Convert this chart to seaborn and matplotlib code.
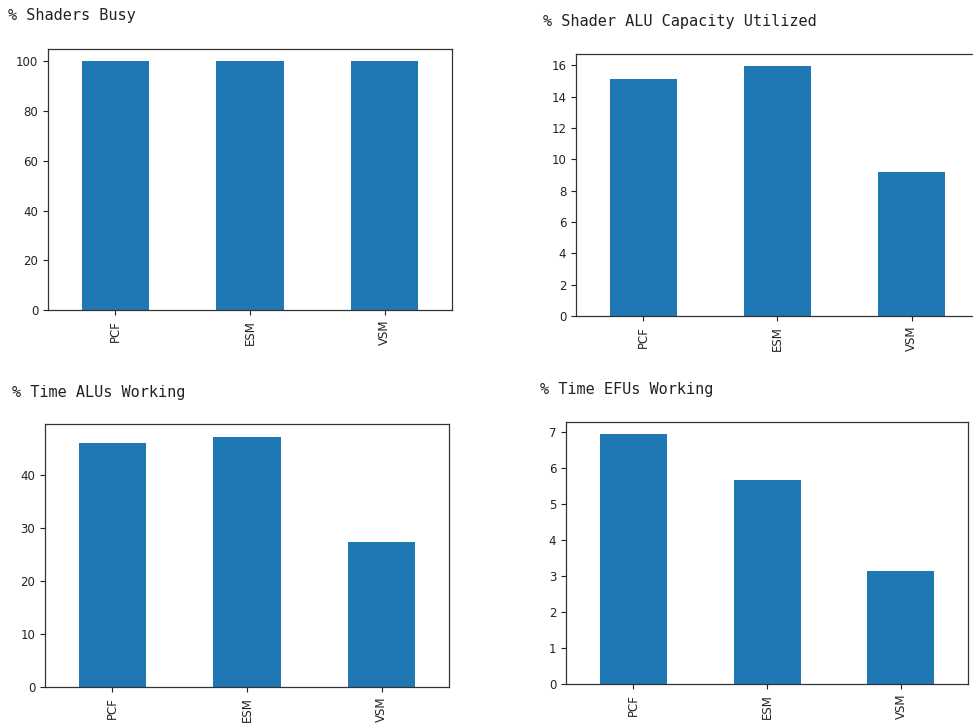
import matplotlib
matplotlib.use("Agg")
import matplotlib.pyplot as plt
import seaborn as sns

# Kernels compared in every panel
labels = ["PCF", "ESM", "VSM"]

# Shader counters per kernel
shaders_busy = [100.0, 100.0, 100.0]
alu_capacity_utilized = [15.1, 15.93, 9.18]
time_alus_working = [46.0, 47.2, 27.4]
time_efus_working = [6.94, 5.67, 3.14]

titles = [
    "% Shaders Busy",
    "% Shader ALU Capacity Utilized",
    "% Time ALUs Working",
    "% Time EFUs Working",
]
series = [shaders_busy, alu_capacity_utilized, time_alus_working, time_efus_working]

W, H = 973, 726
fig = plt.figure(figsize=(W / 100, H / 100), dpi=100)
fig.patch.set_facecolor("white")

# axes boxes in pixels: left, top, right, bottom
boxes = [
    (48, 49, 452, 310),
    (576, 54, 979, 316),
    (45, 424, 449, 687),
    (566, 422, 968, 684),
]
# title anchors in pixels: left x, baseline y
title_pos = [(8, 20), (543, 26), (12, 397), (540, 394)]

for i, (box, vals, title, (tx, ty)) in enumerate(zip(boxes, series, titles, title_pos)):
    l, t, r, b = box
    ax = fig.add_axes([l / W, 1 - b / H, (r - l) / W, (b - t) / H])
    sns.barplot(x=labels, y=vals, order=labels, ax=ax, color="#1f77b4",
                saturation=1, width=0.5)
    ax.set_xlim(-0.5, 2.5)
    ax.set_ylim(0, max(vals) * 1.05)
    ax.set_xlabel("")
    ax.set_ylabel("")
    ax.tick_params(axis="x", rotation=90, labelsize=8.5, colors="#222222")
    ax.tick_params(axis="y", labelsize=8.5, colors="#222222")
    for sp in ax.spines.values():
        sp.set_color("#333333")
        sp.set_linewidth(0.9)
    if r > W:
        # this panel runs past the right edge of the canvas
        ax.spines["right"].set_visible(False)
    fig.text(tx / W, 1 - ty / H, title, family="DejaVu Sans Mono",
             fontsize=11, color="#222222", ha="left", va="baseline")

fig.savefig("out.png", dpi=100)
